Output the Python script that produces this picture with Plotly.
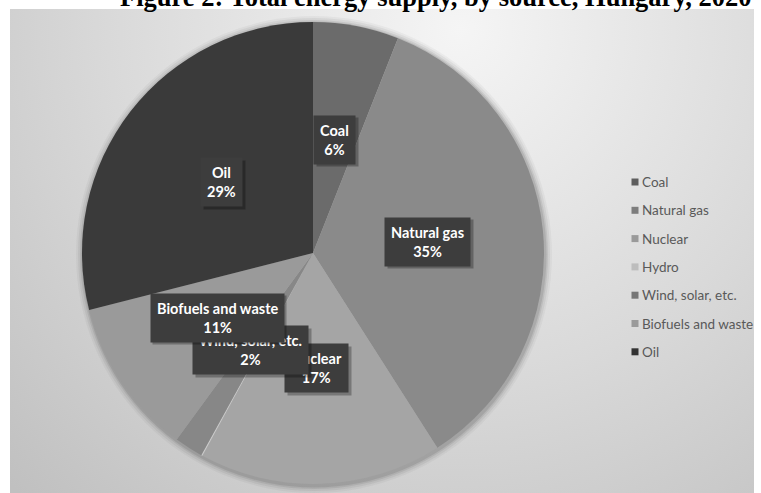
import base64
import math
import plotly.graph_objects as go

# Total energy supply by source, Hungary 2020 (share of total, %)
sources = ["Coal", "Natural gas", "Nuclear", "Hydro", "Wind, solar, etc.",
           "Biofuels and waste", "Oil"]
shares = [6, 35, 17, 0.1, 2, 11, 29]
slice_colors = ["#6b6b6b", "#8a8a8a", "#a5a5a5", "#c9c9c9", "#878787",
                "#9a9a9a", "#3a3a3a"]
legend_colors = ["#5e5e5e", "#7d7d7d", "#9a9a9a", "#bdbdbd", "#767676",
                 "#9a9a9a", "#333333"]
labelled = [True, True, True, False, True, True, True]

W, H = 761, 493
CX, CY, R = 313, 253, 231          # pie centre and radius in pixels
PANEL = (10, 9, 754, 493)           # grey chart panel (x0, y0, x1, y1) in pixels


def px(x):
    return x / W


def py(y):
    return 1 - y / H


fig = go.Figure()

fig.add_trace(go.Pie(
    labels=sources,
    values=shares,
    sort=False,
    direction="clockwise",
    rotation=0,
    marker=dict(colors=slice_colors, line=dict(width=0)),
    textinfo="none",
    hoverinfo="label+percent",
    showlegend=False,
    domain=dict(x=[px(CX - R), px(CX + R)], y=[py(CY + R), py(CY - R)]),
))

# panel background with a soft radial gradient
pw, ph = PANEL[2] - PANEL[0], PANEL[3] - PANEL[1]
svg = (
    f'<svg xmlns="http://www.w3.org/2000/svg" width="{pw}" height="{ph}" '
    f'viewBox="0 0 {pw} {ph}" preserveAspectRatio="none"><defs>'
    f'<radialGradient id="g" cx="450" cy="20" r="640" gradientUnits="userSpaceOnUse">'
    f'<stop offset="0" stop-color="#f5f5f5"/><stop offset="0.55" stop-color="#d9d9d9"/>'
    f'<stop offset="1" stop-color="#c0c0c0"/></radialGradient></defs>'
    f'<rect width="{pw}" height="{ph}" fill="url(#g)"/></svg>'
)
bg_src = "data:image/svg+xml;base64," + base64.b64encode(svg.encode()).decode()

images = [dict(source=bg_src, xref="paper", yref="paper", x=px(PANEL[0]), y=py(PANEL[1]),
               sizex=px(pw), sizey=ph / H, sizing="stretch", layer="below",
               xanchor="left", yanchor="top")]

# soft shadow around the pie
shapes = []
for grow, alpha in [(7, 0.035), (5, 0.05), (3, 0.07), (1.5, 0.09)]:
    shapes.append(dict(type="circle", xref="paper", yref="paper", layer="below",
                       x0=px(CX - R - grow + 1), x1=px(CX + R + grow + 1),
                       y0=py(CY + R + grow + 2), y1=py(CY - R - grow + 1),
                       fillcolor=f"rgba(0,0,0,{alpha})", line=dict(width=0)))

annotations = []

# title (sits partly above the page edge)
annotations.append(dict(
    text="<b>Figure 2: Total energy supply, by source, Hungary, 2020</b>",
    xref="paper", yref="paper", x=px(435), y=py(-3), xanchor="center", yanchor="middle",
    showarrow=False, font=dict(family="Liberation Serif", size=26.5, color="#000000"),
))

# data labels: dark boxes placed at each slice's mid-angle
total = sum(shares)
cum = 0.0
for name, v, show in zip(sources, shares, labelled):
    mid = (cum + v / 2) / total * 2 * math.pi
    cum += v
    if not show:
        continue
    rr = 0.5 * R
    lx = CX + rr * math.sin(mid)
    ly = CY - rr * math.cos(mid)
    pct = round(v / total * 100)
    text = f"<b>{name}<br>{pct}%</b>"
    # drop shadow under the box
    annotations.append(dict(
        text=text, xref="paper", yref="paper", x=px(lx), y=py(ly),
        xanchor="center", yanchor="middle", showarrow=False, xshift=2.5, yshift=-2.5,
        font=dict(family="Lato", size=14.5, color="rgba(0,0,0,0)"),
        bgcolor="rgba(0,0,0,0.28)", borderpad=6,
    ))
    annotations.append(dict(
        text=text, xref="paper", yref="paper", x=px(lx), y=py(ly),
        xanchor="center", yanchor="middle", showarrow=False,
        font=dict(family="Lato", size=14.5, color="#ffffff"),
        bgcolor="#3d3d3d", borderpad=6,
    ))

# legend
LEG_X, LEG_Y0, LEG_DY, SQ = 635, 182, 28.3, 7
for i, (name, col) in enumerate(zip(sources, legend_colors)):
    yc = LEG_Y0 + i * LEG_DY
    shapes.append(dict(type="rect", xref="paper", yref="paper",
                       x0=px(LEG_X - SQ / 2), x1=px(LEG_X + SQ / 2),
                       y0=py(yc + SQ / 2), y1=py(yc - SQ / 2),
                       fillcolor=col, line=dict(width=0)))
    annotations.append(dict(
        text=name, xref="paper", yref="paper", x=px(LEG_X + 5), y=py(yc),
        xanchor="left", yanchor="middle", showarrow=False,
        font=dict(family="Lato", size=13.5, color="#595959"),
    ))

fig.update_layout(
    width=W, height=H,
    margin=dict(l=0, r=0, t=0, b=0),
    paper_bgcolor="#ffffff",
    plot_bgcolor="rgba(0,0,0,0)",
    images=images,
    shapes=shapes,
    annotations=annotations,
    showlegend=False,
)

fig.write_html("out.html")
